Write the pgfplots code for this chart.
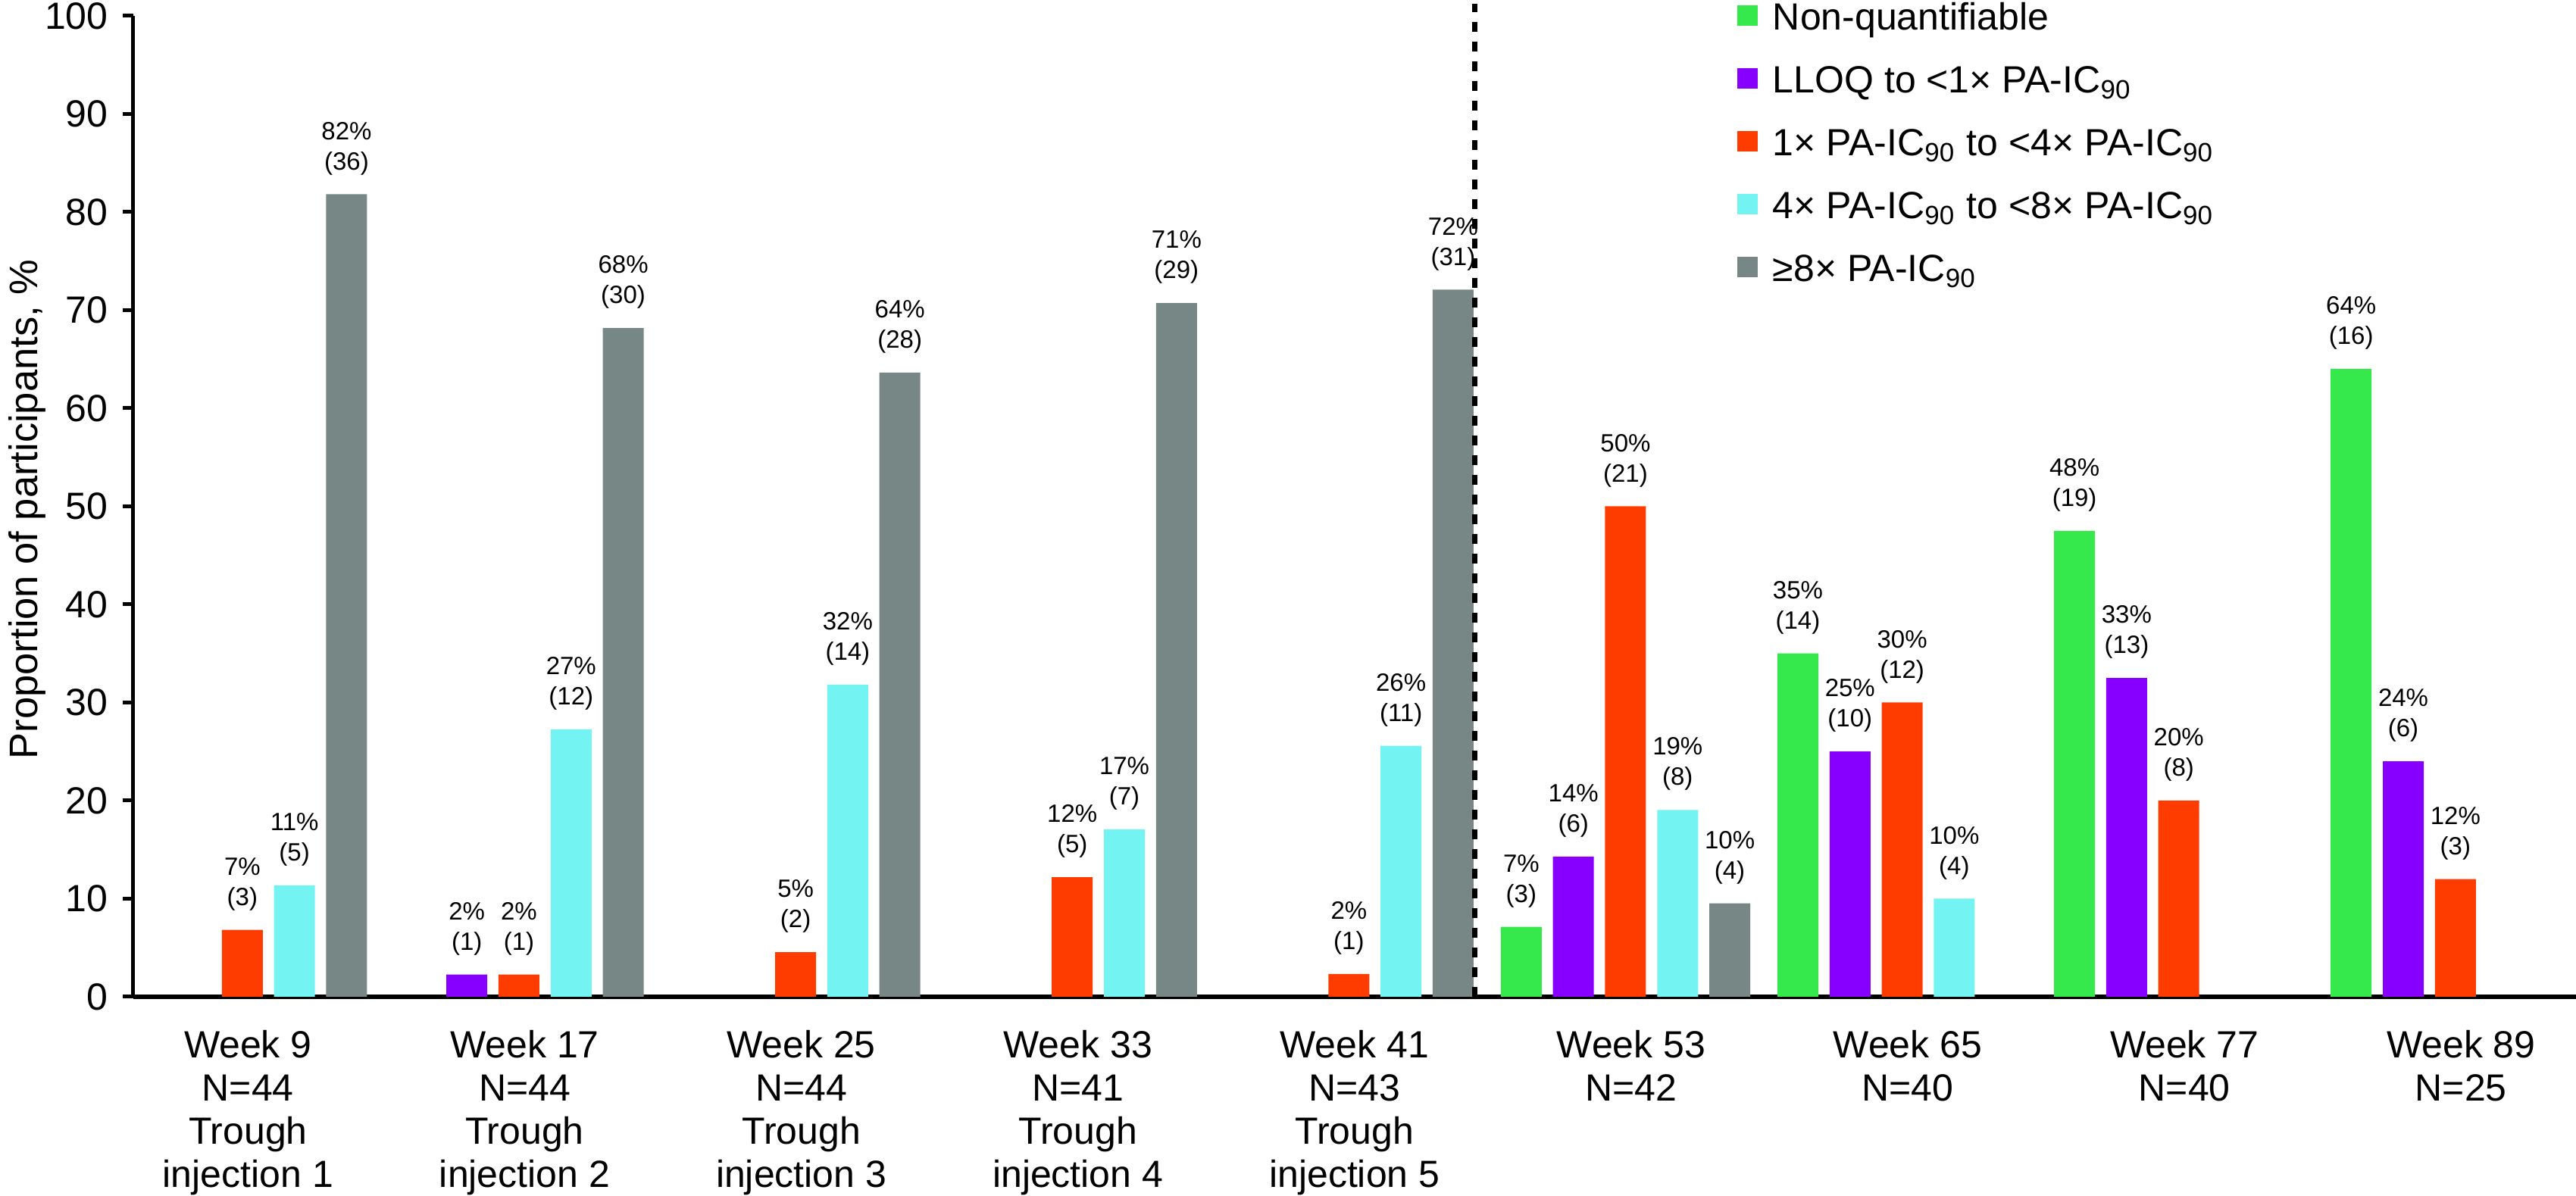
\documentclass[border=0pt]{standalone}
\usepackage{fontspec}
\setmainfont{Liberation Sans}
\usepackage{pgfplots}
\pgfplotsset{compat=1.18}
\usepackage{pgfplotstable}

\definecolor{cGreen}{HTML}{35E84C}
\definecolor{cPurple}{HTML}{8700FF}
\definecolor{cOrange}{HTML}{FF3C00}
\definecolor{cCyan}{HTML}{74F3F3}
\definecolor{cGray}{HTML}{778786}

% x = visit index, y = percent, p = printed percent, n = count
\pgfplotstableread{
x y p n
5 7.14 7 3
6 35.00 35 14
7 47.50 48 19
8 64.00 64 16
}\nonquant
\pgfplotstableread{
x y p n
1 2.27 2 1
5 14.29 14 6
6 25.00 25 10
7 32.50 33 13
8 24.00 24 6
}\lloq
\pgfplotstableread{
x y p n
0 6.82 7 3
1 2.27 2 1
2 4.55 5 2
3 12.20 12 5
4 2.33 2 1
5 50.00 50 21
6 30.00 30 12
7 20.00 20 8
8 12.00 12 3
}\oneToFour
\pgfplotstableread{
x y p n
0 11.36 11 5
1 27.27 27 12
2 31.82 32 14
3 17.07 17 7
4 25.58 26 11
5 19.05 19 8
6 10.00 10 4
}\fourToEight
\pgfplotstableread{
x y p n
0 81.82 82 36
1 68.18 68 30
2 63.64 64 28
3 70.73 71 29
4 72.09 72 31
5 9.52 10 4
}\eightPlus

\newcommand{\ic}{PA-IC\textsubscript{90}}

\pgfplotsset{
  barlab/.style={
    point meta=\thisrow{p},
    visualization depends on={\thisrow{n}\as\cnt},
    nodes near coords={\pgfmathprintnumber{\pgfplotspointmeta}\%\\(\pgfmathprintnumber{\cnt})},
  },
}

\begin{document}
\begin{tikzpicture}
\path[use as bounding box] (0,0) rectangle (680pt,315.8pt);
\begin{axis}[
  at={(35.2pt,52.6pt)}, anchor=south west,
  scale only axis, width=644.8pt, height=259pt,
  xmin=-0.394, xmax=8.436, ymin=0, ymax=100,
  clip=false,
  ybar=2.96pt, bar width=10.8pt,
  axis lines=left,
  x axis line style={line width=1.3pt, -},
  y axis line style={line width=1pt, -},
  ytick={0,10,...,100},
  tick align=outside, major tick length=2.7pt,
  ytick style={line width=1pt, black},
  minor tick num=0,
  xtick={0,...,8}, xtick style={draw=none},
  xticklabels={
    {Week 9\\N=44\\Trough\\injection 1},
    {Week 17\\N=44\\Trough\\injection 2},
    {Week 25\\N=44\\Trough\\injection 3},
    {Week 33\\N=41\\Trough\\injection 4},
    {Week 41\\N=43\\Trough\\injection 5},
    {Week 53\\N=42},
    {Week 65\\N=40},
    {Week 77\\N=40},
    {Week 89\\N=25}},
  xticklabel style={align=center, font=\fontsize{10}{11.4}\selectfont,
    inner sep=0pt, anchor=north, yshift=-6pt, xshift=1.5pt},
  yticklabel style={font=\fontsize{10}{12}\selectfont, inner sep=0pt,
    anchor=east, xshift=-3.8pt},
  /pgf/number format/assume math mode=true,
  ylabel={Proportion of participants, \%},
  ylabel style={font=\fontsize{10.5}{12}\selectfont,
    at={(axis description cs:-0.0433,0.497)}, anchor=center},
  nodes near coords style={font=\fontsize{6.6}{8}\selectfont, align=center,
    inner sep=0pt, anchor=south, yshift=4.9pt, text=black},
  legend style={at={(axis description cs:0.6563,1.0135)}, anchor=north west,
    draw=none, fill=none, inner sep=0pt, row sep=7.1pt,
    font=\fontsize{10}{12}\selectfont,
    nodes={inner sep=0pt, text height=7pt, text depth=2.5pt},
    /tikz/every odd column/.append style={column sep=4pt}},
  legend cell align=left,
  legend image code/.code={\fill[#1] (0pt,-1.1pt) rectangle (5.4pt,4.3pt);},
]
\addplot[fill=cGreen, draw=none, barlab] table[x=x, y=y] {\nonquant};
\addlegendentry{Non-quantifiable}
\addplot[fill=cPurple, draw=none, barlab] table[x=x, y=y] {\lloq};
\addlegendentry{LLOQ to <1× \ic}
\addplot[fill=cOrange, draw=none, barlab] table[x=x, y=y] {\oneToFour};
\addlegendentry{1× \ic{} to <4× \ic}
\addplot[fill=cCyan, draw=none, barlab] table[x=x, y=y] {\fourToEight};
\addlegendentry{4× \ic{} to <8× \ic}
\addplot[fill=cGray, draw=none, barlab] table[x=x, y=y] {\eightPlus};
\addlegendentry{≥8× \ic}
\draw[line width=1.45pt, dash pattern=on 2.6pt off 2.6pt]
  (4.456,0) -- (4.456,101.2);
\end{axis}
\end{tikzpicture}
\end{document}
